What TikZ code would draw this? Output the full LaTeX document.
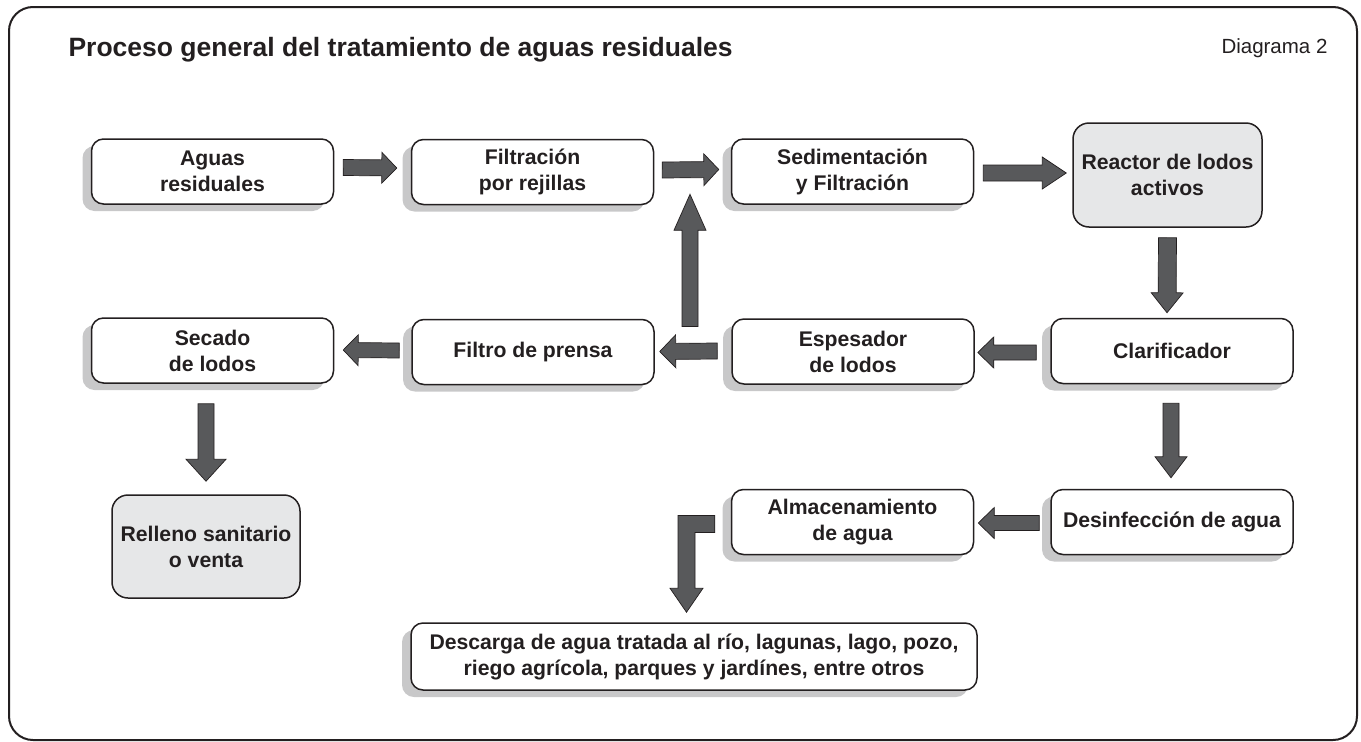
\documentclass[tikz,border=0pt]{standalone}
\usepackage{fontspec}
\setmainfont{Liberation Sans}
\usetikzlibrary{calc,shadows}
\definecolor{ink}{HTML}{231F20}
\definecolor{shade}{HTML}{C8C8C9}
\definecolor{lightfill}{HTML}{E6E7E8}
\definecolor{arrowfill}{HTML}{58595B}
\newcommand{\boxfont}{\fontsize{21.2}{26}\selectfont\bfseries}
\tikzset{
  stepbox/.style={draw=ink, line width=1.5pt, rounded corners=12pt, fill=white,
    align=center, inner sep=0pt, font=\boxfont, text=ink,
    minimum width=242pt, minimum height=65pt,
    drop shadow={shadow xshift=-9pt, shadow yshift=-7pt, opacity=1, fill=shade}},
  greybox/.style={draw=ink, line width=1.5pt, rounded corners=16pt, fill=lightfill,
    align=center, inner sep=0pt, font=\boxfont, text=ink},
  blockarrow/.style={fill=arrowfill, draw=ink, line width=0.7pt, line join=miter},
}
% block arrow: start, end, half shaft, half head, head length
\newcommand{\barrow}[5]{%
  \coordinate (bs) at (#1);
  \coordinate (be) at (#2);
  \coordinate (bb) at ($(be)!#5pt!(bs)$);
  \path[blockarrow] ($(bs)!#3pt!90:(be)$) -- ($(bb)!#3pt!90:(be)$) -- ($(bb)!#4pt!90:(be)$)
    -- (be) -- ($(bb)!#4pt!-90:(be)$) -- ($(bb)!#3pt!-90:(be)$) -- ($(bs)!#3pt!-90:(be)$) -- cycle;}
\begin{document}
\begin{tikzpicture}[x=1pt, y=-1pt]
\useasboundingbox (0,0) rectangle (1361,742);
\draw[ink, line width=2pt, rounded corners=24pt] (9,7) rectangle (1357,740);

\node[anchor=base west, text=ink, font=\fontsize{26.5}{30}\selectfont\bfseries] (title) at (65,56)
  {Proceso general del tratamiento de aguas residuales};
\node[anchor=base east, text=ink, font=\fontsize{20.5}{24}\selectfont] (diag) at (1331,53) {Diagrama 2};

% row 1
\node[stepbox] (aguas) at (212.5,171.5) {Aguas\\residuales};
\node[stepbox] (filt) at (532.5,172) {Filtración\\por rejillas};
\node[stepbox] (sed) at (852.5,171.5) {Sedimentación\\y Filtración};
\node[greybox, minimum width=189pt, minimum height=104pt] (reactor) at (1167.5,175) {Reactor de lodos\\activos};
% row 2
\node[stepbox] (clar) at (1172,351) {Clarificador};
\node[stepbox] (esp) at (853,351.5) {Espesador\\de lodos};
\node[stepbox] (prensa) at (533,352) {Filtro de prensa};
\node[stepbox] (secado) at (212.5,350.5) {Secado\\de lodos};
% row 3
\node[greybox, minimum width=188pt, minimum height=103pt] (relleno) at (206,546.5) {Relleno sanitario\\o venta};
\node[stepbox] (desinf) at (1172,522) {Desinfección de agua};
\node[stepbox] (almac) at (852.5,522) {Almacenamiento\\de agua};
\node[stepbox, minimum width=566pt, minimum height=67pt] (descarga) at (694,656.5)
  {Descarga de agua tratada al río, lagunas, lago, pozo,\\riego agrícola, parques y jardínes, entre otros};

% arrows
\barrow{$(aguas.east)+(9,-4)$}{$(filt.west)+(-14,-4)$}{8}{15.5}{15}
\barrow{$(filt.east)+(8,-2)$}{$(sed.west)+(-12,-2)$}{8}{16}{15}
\barrow{$(sed.east)+(9,1.5)$}{$(reactor.west)+(-6,-2)$}{8}{16}{24}
\barrow{$(reactor.south)+(0,10)$}{$(clar.north)+(-5,-5)$}{9}{16}{20}
\barrow{$(clar.south)+(-1,19)$}{$(desinf.north)+(-1,-11)$}{8}{16}{21}
\barrow{$(clar.west)+(-14,1.5)$}{$(esp.east)+(3,1)$}{7.5}{15.5}{16}
\barrow{$(esp.west)+(-14,-0.5)$}{$(prensa.east)+(5,-0.5)$}{8}{16.5}{16}
\barrow{$(prensa.west)+(-12,-1.5)$}{$(secado.east)+(9,-0.5)$}{7.5}{15.5}{15}
\barrow{$(desinf.west)+(-11,1)$}{$(almac.east)+(4,1)$}{7.5}{15.5}{16}
\barrow{$(secado.south)+(-6.5,20)$}{$(relleno.north)+(0,-13)$}{8}{20}{22}
\coordinate (upS) at ($(prensa.north east)!0.5!(esp.north west)+(-3,8)$);
\barrow{upS}{$(filt.south)+(157.5,-11)$}{8}{16}{36}

% L-shaped arrow from storage to discharge
\coordinate (Ls) at ($(almac.west)+(-16,2)$);
\coordinate (Le) at ($(descarga.north)+(-7.5,-10)$);
\path[blockarrow] let \p1=(Ls), \p2=(Le) in
  (\x1,\y1+8.5) -- (\x2-8.5,\y1+8.5) -- (\x2-8.5,\y2+24) -- (\x2-16.5,\y2+24) -- (\x2,\y2)
  -- (\x2+16.5,\y2+24) -- (\x2+8.5,\y2+24) -- (\x2+8.5,\y1-8.5) -- (\x1,\y1-8.5) -- cycle;
\end{tikzpicture}
\end{document}
